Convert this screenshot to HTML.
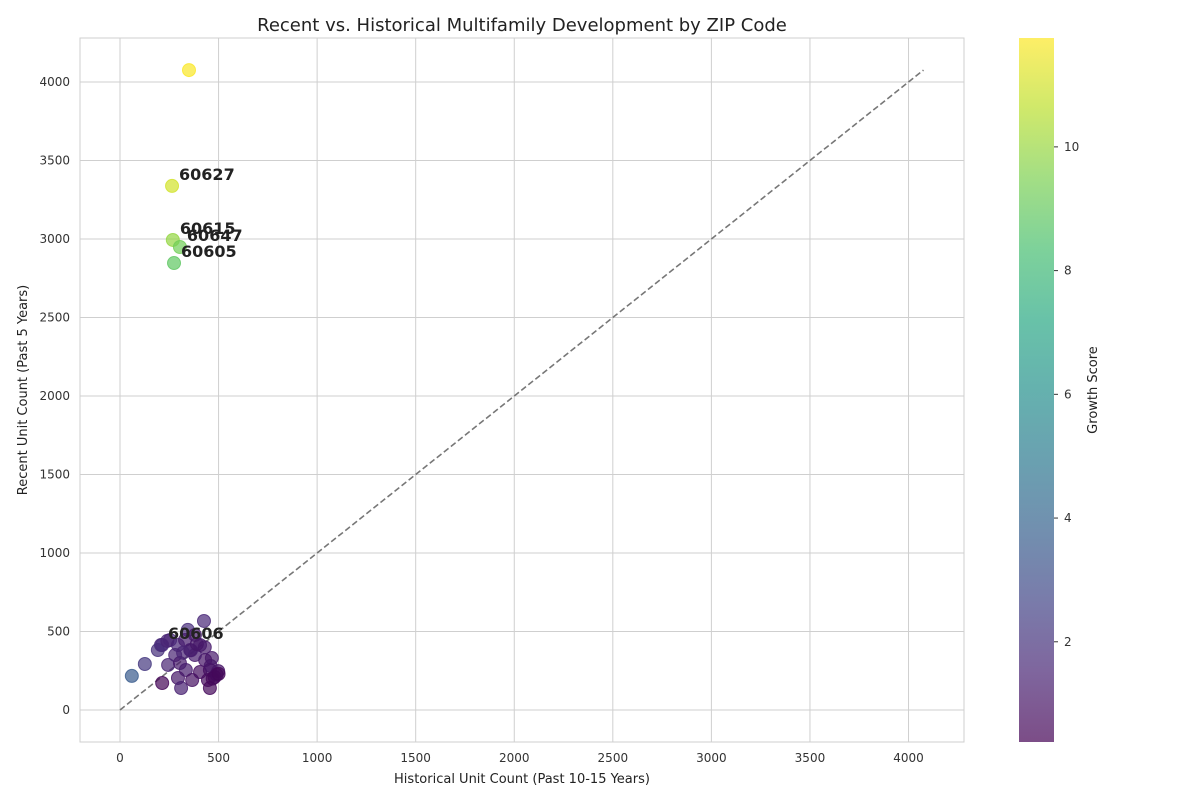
<!DOCTYPE html>
<html><head><meta charset="utf-8">
<style>
body{margin:0;background:#fff;font-family:"Liberation Sans","DejaVu Sans",sans-serif;}
svg text{font-family:"DejaVu Sans","Liberation Sans",sans-serif;}
</style></head>
<body>
<svg id="chart" width="1200" height="800"></svg>
<script>
const histX=[350,264,268,304,274,208, 60,126,214,192,214,254,294,344,426,406,356,280,244,304,334,294,310,366,406,446,456,466,432,380,330,380,456,498,480,360,430,460,470,320,240,390,490,500];
const recentY=[4076,3338,2994,2949,2847,414, 217,293,172,382,414,446,414,510,567,414,382,350,287,299,255,204,140,191,242,191,140,331,318,350,446,478,255,248,210,380,400,280,200,365,440,420,225,230];
const growth=[11.7,11.0,9.9,9.3,8.9,1.6, 3.6,2.2,0.5,1.9,1.8,1.7,1.6,1.8,1.6,1.2,1.4,1.5,1.5,1.2,1.3,1.1,1.4,0.9,0.8,0.7,0.6,1.2,1.0,1.3,1.3,1.2,0.8,1.0,0.7,1.3,1.2,1.1,0.6,1.5,1.5,1.1,0.7,0.6];
const labels=["","60627","60615","60647","60605","60606"];
const xTicks=[0,500,1000,1500,2000,2500,3000,3500,4000];
const yTicks=[0,500,1000,1500,2000,2500,3000,3500,4000];
const cTicks=[2,4,6,8,10];
const cMin=0.38,cMax=11.76;
const NS="http://www.w3.org/2000/svg";
const svg=document.getElementById('chart');
const L=80,R=964,T=38,B=742;
const xs=v=>120+v*0.19713;
const ys=v=>710-v*0.157;
function el(t,a,p){const e=document.createElementNS(NS,t);for(const k in a)e.setAttribute(k,a[k]);(p||svg).appendChild(e);return e;}
const vir=[[68,1,84],[72,40,120],[62,74,137],[49,104,142],[38,130,142],[31,158,137],[53,183,121],[109,205,89],[180,222,44],[253,231,37]];
function viridis(t){t=Math.max(0,Math.min(1,t));const f=t*(vir.length-1);const i=Math.min(Math.floor(f),vir.length-2);const r=f-i;const c=vir[i].map((v,k)=>Math.round(v+(vir[i+1][k]-v)*r));return `rgb(${c[0]},${c[1]},${c[2]})`;}
xTicks.forEach(v=>{const g=el('line',{x1:xs(v),x2:xs(v),y1:T,y2:B,stroke:'#cfcfcf','stroke-width':1});
const t=el('text',{x:xs(v),y:B+20,'text-anchor':'middle','font-size':12,fill:'#333'});t.textContent=v;});
yTicks.forEach(v=>{const g=el('line',{x1:L,x2:R,y1:ys(v),y2:ys(v),stroke:'#cfcfcf','stroke-width':1});
const t=el('text',{x:L-10,y:ys(v)+4,'text-anchor':'end','font-size':12,fill:'#333'});t.textContent=v;});
const frame=el('rect',{x:L,y:T,width:R-L,height:B-T,fill:'none',stroke:'#cfcfcf'});

const mx=Math.max(...recentY,...histX);
const diag=el('line',{x1:xs(0),y1:ys(0),x2:xs(mx),y2:ys(mx),stroke:'#777','stroke-width':1.6,'stroke-dasharray':'6,3'});

histX.forEach((v,i)=>{const col=viridis((growth[i]-cMin)/(cMax-cMin));const c=el('circle',{cx:xs(v),cy:ys(recentY[i]),r:6.5,fill:col,'fill-opacity':0.7,stroke:col,'stroke-opacity':0.8});
});
labels.forEach((s,i)=>{if(!s)return;const t=el('text',{x:xs(histX[i])+7,y:ys(recentY[i])-6,'font-size':16,'font-weight':'bold',fill:'#222'});t.textContent=s;
});
const title=el('text',{x:522,y:31,'text-anchor':'middle','font-size':18,fill:'#222'});title.textContent='Recent vs. Historical Multifamily Development by ZIP Code';

const xl=el('text',{x:522,y:783,'text-anchor':'middle','font-size':13,fill:'#222'});xl.textContent='Historical Unit Count (Past 10-15 Years)';

const yl=el('text',{x:27,y:390,'text-anchor':'middle','font-size':13,fill:'#222',transform:'rotate(-90 27 390)'});yl.textContent='Recent Unit Count (Past 5 Years)';

const defs=el('defs',{});const lg=el('linearGradient',{id:'cb',x1:0,y1:1,x2:0,y2:0},defs);
for(let k=0;k<=10;k++){el('stop',{offset:k/10,'stop-color':viridis(k/10),'stop-opacity':0.7},lg);}
const cb=el('rect',{x:1019,y:38,width:35,height:704,fill:'url(#cb)'});

const cbs=v=>742-(v-cMin)/(cMax-cMin)*704;
cTicks.forEach(v=>{el('line',{x1:1054,x2:1058,y1:cbs(v),y2:cbs(v),stroke:'#333'});const t=el('text',{x:1064,y:cbs(v)+4,'font-size':12,fill:'#333'});t.textContent=v;
});
const cl=el('text',{x:1097,y:390,'text-anchor':'middle','font-size':13,fill:'#222',transform:'rotate(-90 1097 390)'});cl.textContent='Growth Score';

</script>
</body></html>
